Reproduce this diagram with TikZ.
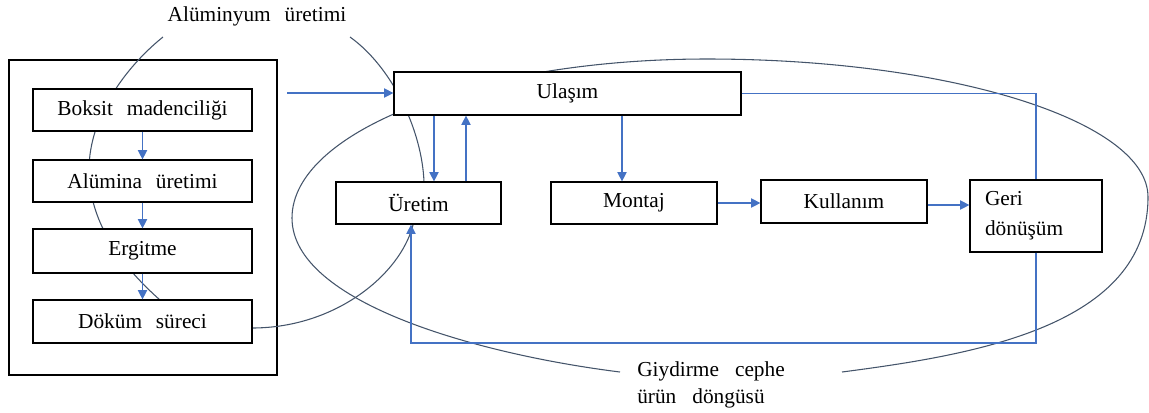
\documentclass[tikz,border=0pt]{standalone}
\usepackage{fontspec}
\setmainfont{Liberation Serif}
\usetikzlibrary{arrows.meta}
\definecolor{ablue}{HTML}{4472C4}
\definecolor{curvec}{HTML}{44546A}
\newcommand\dfont{\fontsize{16}{22.5}\selectfont\spaceskip=0.65em plus 0.1em\relax}
\newcommand\lfont{\fontsize{16}{20}\selectfont\spaceskip=0.75em plus 0.1em\relax}
\begin{document}
\begin{tikzpicture}[x=0.75pt,y=-0.75pt,
  box/.style={draw, line width=0.9pt, fill=white, inner sep=0pt, font=\dfont},
  arr/.style={ablue, line width=0.8pt, -{Triangle[length=7pt,width=7pt]}},
  bline/.style={ablue, line width=0.8pt},
  curve/.style={curvec, line width=0.8pt}]
\useasboundingbox (0,0) rectangle (1149,412);

% labels
\node[font=\dfont, inner sep=0pt] (alulabel) at (257,16) {Alüminyum üretimi};
\node[font=\lfont, align=left, anchor=base west, inner sep=0pt] (giylabel) at (637,403) {Giydirme cephe\\ürün döngüsü};

% curve points
\coordinate (aL) at (163,37);
\coordinate (aR) at (350,37);
\coordinate (gL) at (620,372);
\coordinate (gR) at (842,372);

% outer frame
\node[draw, line width=0.9pt, minimum width=201pt, minimum height=236.25pt, inner sep=0pt] (outer) at (143,217.5) {};

% left boxes (positions)
\coordinate (dkTop) at (160,300);
\coordinate (urTop) at (424,182);
\coordinate (urBot) at (413,225);
\coordinate (dkEast) at (252,328);

% aluminium production loop
\draw[curve] (aL) .. controls (128,65) and (89,115) .. (89,170)
                  .. controls (89,225) and (125,269) .. (dkTop);
\draw[curve] (aR) .. controls (392,67) and (422,130) .. (urTop);
\draw[curve] (dkEast) .. controls (335,328) and (400,275) .. (urBot);

% product cycle loop
\draw[curve] (gR) .. controls (972,355) and (1148,327) .. (1148,197)
                  .. controls (1148,121) and (950,59) .. (707,59)
                  .. controls (479,59) and (292,130.5) .. (292,218)
                  .. controls (292,303) and (480,354.5) .. (gL);

% left boxes
\node[box, minimum width=164.25pt, minimum height=31.5pt] (boksit) at (142.5,110) {Boksit madenciliği};
\node[box, minimum width=164.25pt, minimum height=31.5pt] (alumina) at (142.5,181) {Alümina üretimi};
\node[box, minimum width=164.25pt, minimum height=33pt] (ergitme) at (142.5,251) {Ergitme};
\node[box, minimum width=164.25pt, minimum height=32.25pt] (dokum) at (142.5,321.5) {Döküm süreci};

% right boxes
\node[box, minimum width=260.25pt, minimum height=32.25pt] (ulasim) at (567.5,93.5) {Ulaşım};
\node[box, minimum width=123.75pt, minimum height=31.5pt] (uretim) at (418.5,203) {Üretim};
\node[box, minimum width=124.5pt, minimum height=31.5pt] (montaj) at (634,203) {Montaj};
\node[box, minimum width=124.5pt, minimum height=32.25pt] (kullanim) at (844,201.5) {Kullanım};
\node[box, text width=76.5pt, inner xsep=11.25pt, align=left, minimum height=54pt] (geri) at (1036,216) {Geri\\dönüşüm};

% arrows
\coordinate (inA) at (287,93);
\draw[arr] (inA) -- (inA -| ulasim.west);
\draw[arr] (boksit) -- (alumina);
\draw[arr] (alumina) -- (ergitme);
\draw[arr] (ergitme) -- (dokum);
\coordinate (xa) at (434,0);
\coordinate (xb) at (466,0);
\coordinate (xc) at (622,0);
\draw[arr] (xa |- ulasim.south) -- (xa |- uretim.north);
\draw[arr] (xb |- uretim.north) -- (xb |- ulasim.south);
\draw[arr] (xc |- ulasim.south) -- (xc |- montaj.north);
\draw[arr] (montaj.east) -- (montaj.east -| kullanim.west);
\coordinate (yk) at (0,205);
\draw[arr] (kullanim.east |- yk) -- (geri.west |- yk);
\draw[bline] (ulasim.east) -| (geri.north);
\coordinate (lb) at (411,343);
\draw[arr] (geri.south) |- (lb) -- (lb |- uretim.south);
\end{tikzpicture}
\end{document}
